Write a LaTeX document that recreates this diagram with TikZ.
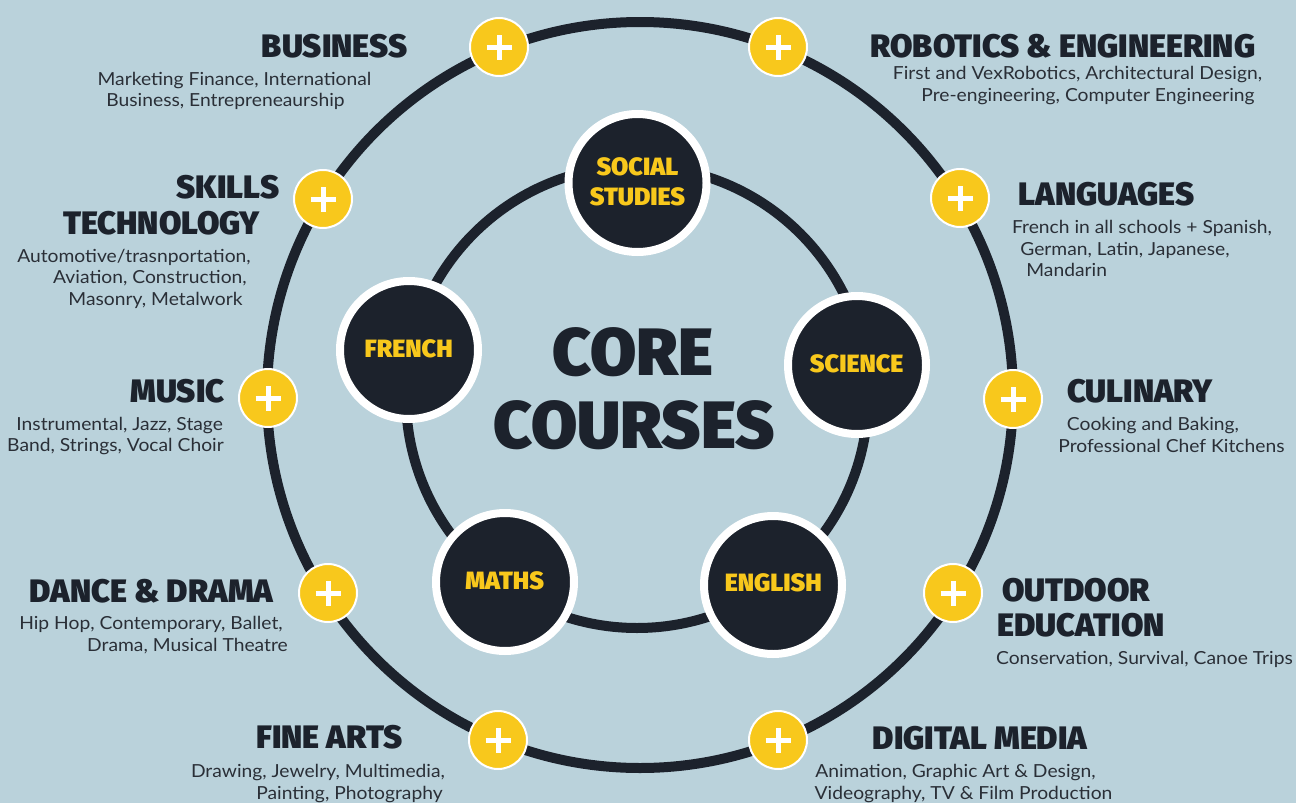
\documentclass[tikz,border=0pt]{standalone}
\usepackage{fontspec}
\setmainfont{Lato}[FakeStretch=1.07]
\newfontfamily\headfont{Fira Sans Black}
\definecolor{bg}{RGB}{186,210,219}
\definecolor{navy}{RGB}{28,34,44}
\definecolor{gold}{RGB}{248,200,28}
\definecolor{bodytxt}{RGB}{42,47,55}
\begin{document}
\begin{tikzpicture}[x=1pt,y=-1pt,
  ring/.style={draw=navy, line width=10pt},
  corenode/.style={circle, fill=navy, draw=white, line width=8pt, minimum size=138pt, inner sep=0pt},
  coretext/.style={text=gold, font=\headfont\fontsize{25}{25}\selectfont, anchor=base, inner sep=0pt},
  plusnode/.style={circle, fill=gold, draw=white, line width=2pt, minimum size=58pt, inner sep=0pt,
    path picture={\draw[white, line width=5pt]
      ([xshift=-12.5pt]path picture bounding box.center) -- ([xshift=12.5pt]path picture bounding box.center)
      ([yshift=-12.5pt]path picture bounding box.center) -- ([yshift=12.5pt]path picture bounding box.center);}},
  headtext/.style={text=navy, font=\headfont\fontsize{32.5}{32.5}\selectfont, anchor=base, inner sep=0pt},
  desctext/.style={text=bodytxt, font=\fontsize{18}{18}\selectfont, anchor=base, inner sep=0pt},
  bigtext/.style={text=navy, font=\headfont\fontsize{67}{67}\selectfont, anchor=base, inner sep=0pt}]
\fill[bg] (0,0) rectangle (1296,803);
\useasboundingbox (0,0) rectangle (1296,803);
% rings
\coordinate (oc) at (640,395);
\coordinate (ic) at (637,397);
\draw[ring] (oc) circle[radius=373pt];
\draw[ring] (ic) circle[radius=231pt];
% core nodes
\node[corenode] (soc) at (637.5,183) {};
\node[corenode] (fre) at (409,350) {};
\node[corenode] (sci) at (857,365) {};
\node[corenode] (mat) at (505,582) {};
\node[corenode] (eng) at (773,585) {};
\node[coretext] (socA) at (637.5,175.7) {SOCIAL};
\node[coretext] (socB) at (637.5,205) {STUDIES};
\node[coretext] (freA) at (408.7,357.7) {FRENCH};
\node[coretext] (sciA) at (856.7,372.7) {SCIENCE};
\node[coretext] (matA) at (504.7,589.3) {MATHS};
\node[coretext] (engA) at (773.3,591.7) {ENGLISH};
% centre title
\node[bigtext] (coreA) at (633,375) {CORE};
\node[bigtext] (coreB) at (634,448.3) {COURSES};
% plus nodes
\node[plusnode] (pBus) at (499,47) {};
\node[plusnode] (pRob) at (778,47) {};
\node[plusnode] (pSki) at (323,199) {};
\node[plusnode] (pLan) at (960,198) {};
\node[plusnode] (pMus) at (268,398) {};
\node[plusnode] (pCul) at (1013,399) {};
\node[plusnode] (pDan) at (328,593) {};
\node[plusnode] (pOut) at (953,593) {};
\node[plusnode] (pFin) at (498,740) {};
\node[plusnode] (pDig) at (778,740) {};
% business
\node[headtext] (hBus) at (334.5,57) {BUSINESS};
\node[desctext] (dBus1) at (234.5,85) {Marketing Finance, International};
\node[desctext] (dBus2) at (225.5,106) {Business, Entrepreneaurship};
% robotics
\node[headtext] (hRob) at (1063,57) {ROBOTICS \& ENGINEERING};
\node[desctext] (dRob1) at (1077.5,79.5) {First and VexRobotics, Architectural Design,};
\node[desctext] (dRob2) at (1088,101.5) {Pre-engineering, Computer Engineering};
% skills
\node[headtext] (hSki1) at (228,198) {SKILLS};
\node[headtext] (hSki2) at (161.5,234) {TECHNOLOGY};
\node[desctext] (dSki1) at (134,262) {Automotive/trasnportation,};
\node[desctext] (dSki2) at (150,283.5) {Aviation, Construction,};
\node[desctext] (dSki3) at (155.5,305) {Masonry, Metalwork};
% languages
\node[headtext] (hLan) at (1106.5,205) {LANGUAGES};
\node[desctext] (dLan1) at (1142,233.3) {French in all schools + Spanish,};
\node[desctext] (dLan2) at (1125,255) {German, Latin, Japanese,};
\node[desctext] (dLan3) at (1066.7,276) {Mandarin};
% music
\node[headtext] (hMus) at (177.5,402.7) {MUSIC};
\node[desctext] (dMus1) at (119.7,430) {Instrumental, Jazz, Stage};
\node[desctext] (dMus2) at (115.5,451.7) {Band, Strings, Vocal Choir};
% culinary
\node[headtext] (hCul) at (1140,402) {CULINARY};
\node[desctext] (dCul1) at (1153,430) {Cooking and Baking,};
\node[desctext] (dCul2) at (1171.5,452) {Professional Chef Kitchens};
% dance
\node[headtext] (hDan) at (151.5,602) {DANCE \& DRAMA};
\node[desctext] (dDan1) at (151,629) {Hip Hop, Contemporary, Ballet,};
\node[desctext] (dDan2) at (187.5,651) {Drama, Musical Theatre};
% outdoor
\node[headtext] (hOut1) at (1076,601.7) {OUTDOOR};
\node[headtext] (hOut2) at (1081,636.7) {EDUCATION};
\node[desctext] (dOut1) at (1144.5,664) {Conservation, Survival, Canoe Trips};
% fine arts
\node[headtext] (hFin) at (329.5,748) {FINE ARTS};
\node[desctext] (dFin1) at (318,777) {Drawing, Jewelry, Multimedia,};
\node[desctext] (dFin2) at (349.5,799) {Painting, Photography};
% digital media
\node[headtext] (hDig) at (980,749) {DIGITAL MEDIA};
\node[desctext] (dDig1) at (955.5,777) {Animation, Graphic Art \& Design,};
\node[desctext] (dDig2) at (963.5,799) {Videography, TV \& Film Production};
\end{tikzpicture}
\end{document}
